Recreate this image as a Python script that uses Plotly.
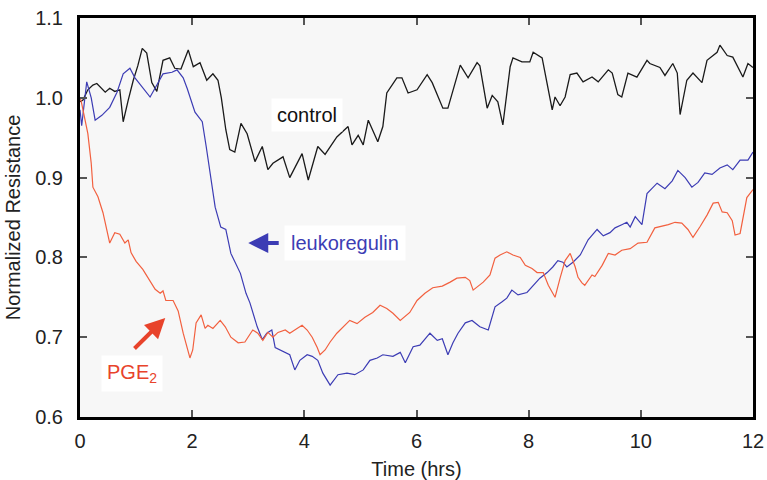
import plotly.graph_objects as go

# Time (hrs) and normalized resistance for each treatment
control_t = [0.00, 0.05, 0.14, 0.23, 0.30, 0.36, 0.45, 0.53, 0.62, 0.71, 0.77, 0.86, 0.95, 1.03,
             1.11, 1.19, 1.28, 1.37, 1.48, 1.60, 1.69, 1.80, 1.93, 2.02, 2.14, 2.26, 2.37, 2.46,
             2.52, 2.60, 2.67, 2.76, 2.87, 2.98, 3.12, 3.25, 3.35, 3.44, 3.62, 3.74, 3.96, 4.07,
             4.24, 4.37, 4.58, 4.78, 4.85, 4.96, 5.05, 5.14, 5.31, 5.40, 5.47, 5.65, 5.74, 5.85,
             6.01, 6.19, 6.28, 6.47, 6.56, 6.78, 6.92, 7.08, 7.13, 7.26, 7.35, 7.45, 7.54, 7.67,
             7.72, 7.88, 8.02, 8.08, 8.24, 8.42, 8.47, 8.56, 8.65, 8.74, 8.86, 8.97, 9.13, 9.24,
             9.42, 9.49, 9.59, 9.66, 9.77, 9.93, 10.11, 10.16, 10.34, 10.43, 10.57, 10.65, 10.70,
             10.82, 10.93, 11.09, 11.18, 11.36, 11.41, 11.54, 11.64, 11.82, 11.91, 12.00]
control_r = [0.995, 0.997, 1.010, 1.016, 1.018, 1.014, 1.007, 1.012, 1.008, 1.010, 0.970, 0.997,
             1.022, 1.040, 1.062, 1.056, 1.019, 1.008, 1.047, 1.050, 1.037, 1.036, 1.060, 1.039,
             1.044, 1.022, 1.030, 1.022, 1.000, 0.960, 0.935, 0.932, 0.968, 0.955, 0.920, 0.939,
             0.910, 0.918, 0.926, 0.900, 0.930, 0.897, 0.939, 0.929, 0.951, 0.964, 0.941, 0.953,
             0.941, 0.972, 0.945, 0.964, 1.006, 1.025, 1.025, 1.006, 1.010, 1.029, 1.019, 0.987,
             0.987, 1.041, 1.025, 1.044, 1.040, 0.987, 1.003, 0.995, 0.966, 1.039, 1.050, 1.045,
             1.045, 1.057, 1.050, 0.985, 1.001, 0.990, 1.001, 1.029, 1.031, 1.020, 1.026, 1.020,
             1.035, 1.031, 1.004, 1.001, 1.031, 1.026, 1.047, 1.043, 1.038, 1.028, 1.043, 1.031,
             0.979, 1.022, 1.031, 1.019, 1.047, 1.057, 1.066, 1.053, 1.051, 1.026, 1.043, 1.038]

leuko_t = [0.00, 0.03, 0.12, 0.20, 0.27, 0.39, 0.53, 0.66, 0.77, 0.89, 0.98, 1.11, 1.25, 1.37,
           1.48, 1.64, 1.73, 1.84, 1.91, 2.05, 2.18, 2.25, 2.34, 2.41, 2.51, 2.60, 2.69, 2.86,
           2.96, 3.03, 3.16, 3.25, 3.33, 3.42, 3.48, 3.62, 3.74, 3.83, 3.92, 4.05, 4.14, 4.24,
           4.33, 4.46, 4.60, 4.76, 4.90, 5.05, 5.17, 5.30, 5.40, 5.58, 5.71, 5.80, 5.94, 6.06,
           6.24, 6.37, 6.46, 6.56, 6.65, 6.74, 6.87, 6.99, 7.13, 7.28, 7.40, 7.52, 7.61, 7.70,
           7.81, 7.97, 8.08, 8.20, 8.33, 8.43, 8.52, 8.61, 8.68, 8.79, 8.92, 9.06, 9.22, 9.33,
           9.45, 9.54, 9.66, 9.75, 9.81, 9.90, 10.02, 10.11, 10.29, 10.43, 10.56, 10.66, 10.79,
           10.91, 11.02, 11.14, 11.27, 11.41, 11.54, 11.64, 11.77, 11.91, 12.00]
leuko_r = [0.985, 0.965, 1.020, 1.000, 0.972, 0.978, 0.988, 1.007, 1.030, 1.037, 1.025, 1.014,
           1.001, 1.016, 1.030, 1.032, 1.035, 1.025, 1.012, 0.982, 0.970, 0.939, 0.897, 0.863,
           0.838, 0.835, 0.805, 0.780, 0.755, 0.743, 0.713, 0.697, 0.705, 0.709, 0.687, 0.682,
           0.678, 0.659, 0.671, 0.678, 0.676, 0.671, 0.655, 0.640, 0.653, 0.655, 0.653, 0.659,
           0.671, 0.674, 0.678, 0.676, 0.681, 0.668, 0.688, 0.690, 0.705, 0.696, 0.698, 0.678,
           0.693, 0.705, 0.718, 0.721, 0.713, 0.709, 0.738, 0.744, 0.749, 0.759, 0.753, 0.756,
           0.765, 0.774, 0.781, 0.788, 0.796, 0.794, 0.788, 0.794, 0.803, 0.822, 0.835, 0.827,
           0.831, 0.837, 0.841, 0.844, 0.838, 0.851, 0.841, 0.880, 0.893, 0.886, 0.896, 0.909,
           0.900, 0.888, 0.894, 0.906, 0.904, 0.912, 0.916, 0.910, 0.922, 0.922, 0.932]

pge_t = [0.00, 0.02, 0.14, 0.20, 0.23, 0.32, 0.41, 0.53, 0.62, 0.71, 0.80, 0.86, 0.91, 1.00,
         1.12, 1.25, 1.34, 1.43, 1.48, 1.53, 1.66, 1.75, 1.84, 1.96, 2.01, 2.07, 2.16, 2.23,
         2.28, 2.37, 2.50, 2.59, 2.69, 2.82, 2.94, 3.08, 3.17, 3.26, 3.35, 3.44, 3.53, 3.66,
         3.74, 3.87, 3.96, 4.05, 4.14, 4.23, 4.28, 4.37, 4.46, 4.58, 4.69, 4.81, 4.94, 5.08,
         5.22, 5.35, 5.47, 5.58, 5.71, 5.88, 6.01, 6.15, 6.29, 6.46, 6.60, 6.72, 6.87, 6.95,
         7.01, 7.10, 7.19, 7.31, 7.40, 7.49, 7.61, 7.72, 7.85, 7.94, 8.06, 8.15, 8.26, 8.35,
         8.47, 8.56, 8.65, 8.74, 8.83, 8.88, 8.95, 9.00, 9.13, 9.18, 9.31, 9.42, 9.54, 9.66,
         9.81, 9.95, 10.11, 10.25, 10.38, 10.49, 10.61, 10.73, 10.84, 10.93, 11.06, 11.18,
         11.29, 11.38, 11.45, 11.54, 11.63, 11.68, 11.77, 11.82, 11.89, 12.00]
pge_r = [1.000, 0.996, 0.955, 0.918, 0.888, 0.876, 0.856, 0.818, 0.831, 0.829, 0.818, 0.822,
         0.806, 0.795, 0.785, 0.770, 0.760, 0.755, 0.758, 0.746, 0.746, 0.733, 0.705, 0.674,
         0.684, 0.718, 0.728, 0.711, 0.715, 0.711, 0.721, 0.713, 0.700, 0.693, 0.694, 0.709,
         0.705, 0.696, 0.706, 0.700, 0.706, 0.709, 0.705, 0.711, 0.715, 0.709, 0.700, 0.687,
         0.678, 0.684, 0.694, 0.705, 0.713, 0.721, 0.717, 0.725, 0.731, 0.740, 0.736, 0.730,
         0.721, 0.731, 0.746, 0.755, 0.762, 0.764, 0.769, 0.774, 0.775, 0.771, 0.759, 0.764,
         0.769, 0.778, 0.799, 0.803, 0.807, 0.803, 0.800, 0.790, 0.786, 0.781, 0.781, 0.765,
         0.750, 0.774, 0.796, 0.805, 0.788, 0.775, 0.768, 0.765, 0.778, 0.776, 0.790, 0.805,
         0.803, 0.809, 0.811, 0.818, 0.819, 0.837, 0.839, 0.841, 0.844, 0.843, 0.835, 0.825,
         0.839, 0.853, 0.868, 0.869, 0.857, 0.856, 0.846, 0.828, 0.830, 0.850, 0.875, 0.885]

x_ticks = [0, 2, 4, 6, 8, 10, 12]
y_ticks = [0.6, 0.7, 0.8, 0.9, 1.0, 1.1]

BLACK = "#1a1a1a"
BLUE = "#3c3cb4"
RED = "#f2603f"
LABEL_RED = "#e8432b"
FONT = "Liberation Sans, Arial, sans-serif"

fig = go.Figure()
fig.add_trace(go.Scatter(x=control_t, y=control_r, mode="lines", name="control",
                         line=dict(color=BLACK, width=1.3)))
fig.add_trace(go.Scatter(x=leuko_t, y=leuko_r, mode="lines", name="leukoregulin",
                         line=dict(color=BLUE, width=1.2)))
fig.add_trace(go.Scatter(x=pge_t, y=pge_r, mode="lines", name="PGE2",
                         line=dict(color=RED, width=1.2)))

axis_common = dict(
    showgrid=False, zeroline=False, showline=True, linecolor="black", linewidth=3,
    mirror="ticks", ticks="inside", ticklen=7, tickwidth=1.5, tickcolor="#555555",
    tickfont=dict(family=FONT, size=20, color="#222222"), automargin=False,
)

fig.update_xaxes(range=[0, 12], tickvals=x_ticks, ticklabelstandoff=4,
                 title=dict(text="Time (hrs)", font=dict(family=FONT, size=20, color="#222222"),
                            standoff=13),
                 **axis_common)
fig.update_yaxes(range=[0.6, 1.1], tickvals=y_ticks, tickformat=".1f", ticklabelstandoff=10,
                 title=dict(text="Normalized Resistance", font=dict(family=FONT, size=20, color="#222222"),
                            standoff=10),
                 **axis_common)

annotations = [
    dict(x=4.05, y=0.979, xref="x", yref="y", text="control", showarrow=False,
         font=dict(family=FONT, size=20, color="#111111"), bgcolor="white", borderpad=5),
    dict(x=4.73, y=0.818, xref="x", yref="y", text="leukoregulin", showarrow=False,
         font=dict(family=FONT, size=20, color=BLUE), bgcolor="white", borderpad=6),
    dict(x=0.93, y=0.654, xref="x", yref="y", text="PGE<sub>2</sub>", showarrow=False,
         font=dict(family=FONT, size=20, color=LABEL_RED), bgcolor="white", borderpad=5),
    # arrows pointing at the curves
    dict(x=3.0, y=0.818, xref="x", yref="y", ax=3.57, ay=0.818, axref="x", ayref="y",
         text="", showarrow=True, arrowhead=2, arrowsize=1.0, arrowwidth=4, arrowcolor=BLUE),
    dict(x=1.52, y=0.724, xref="x", yref="y", ax=0.945, ay=0.684, axref="x", ayref="y",
         text="", showarrow=True, arrowhead=2, arrowsize=1.0, arrowwidth=4, arrowcolor=LABEL_RED),
]

fig.update_layout(
    width=767, height=480,
    margin=dict(l=80, r=14, t=18, b=63),
    paper_bgcolor="white", plot_bgcolor="#f7f7f7",
    showlegend=False,
    annotations=annotations,
    font=dict(family=FONT),
)

fig.write_html("out.html")
